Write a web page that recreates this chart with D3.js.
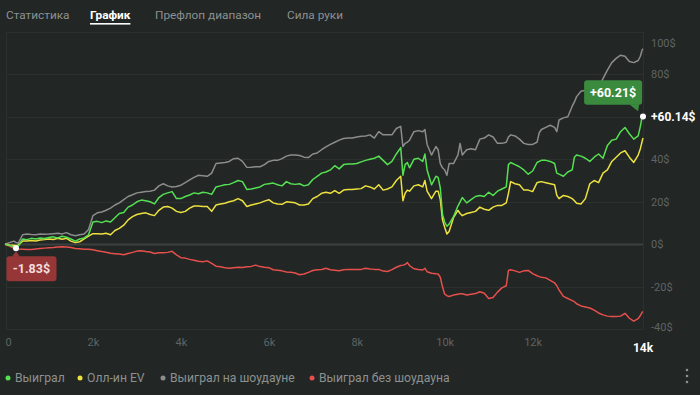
<!DOCTYPE html>
<html>
<head>
<meta charset="utf-8">
<script src="https://cdn.jsdelivr.net/npm/d3@7"></script>
<style>
  html, body { margin: 0; padding: 0; background: #222625; }
  svg { display: block; font-family: Roboto, "Noto Sans", sans-serif; }
</style>
</head>
<body>
<div id="chart"></div>
<script>
// вкладки
const tabs = ["Статистика", "График", "Префлоп диапазон", "Сила руки"]
const activeTab = "График"

// раздачи (ось X)
const hands = [
  0, 100, 200, 250, 300, 400, 500, 600, 700, 800, 900, 1000, 1100, 1200, 1300, 1400,
  1500, 1600, 1700, 1800, 1900, 2000, 2100, 2200, 2300, 2400, 2500, 2600, 2700, 2800,
  2900, 3000, 3100, 3200, 3300, 3400, 3500, 3600, 3700, 3800, 3900, 4000, 4100, 4200,
  4300, 4400, 4500, 4600, 4700, 4800, 4900, 5000, 5100, 5200, 5300, 5400, 5500, 5600,
  5700, 5800, 5900, 6000, 6100, 6200, 6300, 6400, 6500, 6600, 6700, 6800, 6900, 7000,
  7100, 7200, 7300, 7400, 7500, 7600, 7700, 7800, 7900, 8000, 8100, 8200, 8300, 8400,
  8500, 8600, 8700, 8800, 8900, 9000, 9050, 9100, 9150, 9200, 9300, 9400, 9500, 9550,
  9600, 9700, 9800, 9850, 9900, 9950, 10000, 10050, 10100, 10200, 10300, 10350, 10400,
  10500, 10600, 10700, 10800, 10900, 11000, 11100, 11200, 11300, 11400, 11450, 11500,
  11600, 11700, 11800, 11900, 12000, 12100, 12150, 12200, 12300, 12400, 12500, 12550,
  12600, 12700, 12800, 12900, 12950, 13000, 13100, 13200, 13300, 13400, 13500, 13600,
  13700, 13800, 13900, 14000, 14100, 14200, 14300, 14400, 14450, 14490, 14510
]

// Выиграл
const won = [
  0, -0.5, -1.2, -1.83, -1.0, 2.5, 2.2, 2.8, 2.5, 3.0, 2.7, 3.2, 3.5, 3.0, 3.8, 3.3,
  2.5, 1.5, 2.5, 3.0, 4.5, 10.5, 10.8, 10.2, 11.0, 10.5, 12.5, 14.5, 15.0, 17.5,
  18.5, 20.0, 20.8, 20.5, 20.0, 19.0, 22.0, 23.5, 24.2, 24.8, 21.5, 21.5, 22.5, 23.2,
  24.2, 23.8, 24.5, 24.2, 23.5, 27.0, 27.5, 28.0, 28.2, 29.0, 30.0, 29.5, 25.8, 26.0,
  26.5, 27.0, 28.2, 28.5, 28.8, 28.0, 27.5, 29.5, 28.5, 28.2, 28.5, 27.5, 28.0, 30.5,
  32.0, 33.5, 34.0, 35.0, 37.0, 35.5, 37.5, 37.8, 37.8, 38.0, 38.8, 39.5, 40.0, 40.5,
  41.5, 39.5, 37.5, 39.0, 42.5, 45.5, 32.5, 37.5, 38.5, 36.0, 40.0, 40.5, 39.0, 42.5,
  35.0, 28.0, 32.0, 31.5, 26.5, 14.0, 10.5, 8.5, 9.5, 13.0, 18.0, 20.0, 22.0,
  19.5, 21.0, 22.5, 23.0, 22.5, 24.5, 23.0, 25.0, 26.0, 27.0, 37.5, 38.5,
  37.5, 36.5, 35.0, 33.0, 34.5, 38.5, 39.0, 39.5, 39.5, 39.0, 38.0, 33.5,
  33.0, 32.0, 34.0, 35.0, 41.0, 42.0, 41.5, 40.5, 39.0, 41.0, 42.5, 40.5,
  46.5, 49.0, 49.5, 53.0, 55.0, 52.0, 49.5, 51.0, 55.5, 60.21, 60.14
]

// Олл-ин EV
const allinEV = [
  0, -0.3, -0.5, -0.6, -0.4, 1.5, 1.5, 1.8, 1.6, 2.0, 2.2, 2.5, 2.3, 2.8, 2.4, 2.8,
  1.5, 0.8, 1.2, 2.5, 3.8, 5.0, 5.0, 4.8, 5.2, 4.5, 6.5, 7.5, 9.0, 11.5,
  13.0, 14.0, 14.5, 14.8, 14.0, 13.5, 16.0, 17.5, 17.8, 17.0, 15.5, 15.0, 15.5, 17.0,
  18.0, 18.0, 17.8, 17.8, 15.5, 18.5, 19.0, 19.3, 20.0, 20.5, 21.5, 20.5, 17.8, 18.5,
  19.0, 19.5, 20.3, 21.0, 19.5, 19.0, 18.8, 20.0, 19.8, 19.5, 18.5, 18.5, 19.0, 21.5,
  22.5, 24.0, 24.5, 24.0, 25.3, 24.0, 25.5, 25.8, 25.8, 26.0, 26.2, 27.5, 27.0, 26.0,
  28.0, 25.5, 26.0, 27.0, 30.0, 32.0, 20.5, 24.0, 25.5, 25.0, 27.5, 28.0, 27.0, 30.0,
  25.0, 21.5, 25.0, 25.0, 21.0, 11.5, 8.0, 4.8, 6.0, 12.5, 16.0, 14.5, 13.5,
  14.5, 15.0, 15.5, 17.5, 16.5, 16.0, 17.5, 18.3, 18.3, 19.5, 24.0, 29.5,
  28.5, 28.0, 25.5, 25.5, 24.8, 29.0, 29.3, 29.5, 29.0, 28.5, 28.0, 23.0,
  21.5, 23.0, 22.5, 21.5, 20.5, 19.3, 19.0, 21.5, 28.5, 30.0, 29.0, 33.5,
  35.0, 39.0, 41.0, 43.0, 44.0, 41.0, 38.5, 42.0, 45.0, 48.5, 50.0
]

// Выиграл на шоудауне
const wonShowdown = [
  0, 0.8, 1.5, 0.9, 0.5, 4.5, 4.8, 4.6, 4.5, 4.8, 4.7, 4.8, 5.0, 5.2, 4.9, 5.5,
  4.5, 4.0, 4.5, 4.8, 7.0, 13.5, 14.8, 15.2, 16.0, 17.0, 18.5, 19.5, 21.0, 22.5,
  23.3, 24.2, 24.5, 24.8, 25.0, 25.5, 27.5, 28.5, 27.5, 27.0, 27.2, 27.8, 29.0, 30.3,
  31.5, 32.5, 32.3, 32.0, 33.5, 38.0, 38.3, 38.5, 39.0, 40.3, 40.5, 39.0, 36.2, 36.3,
  36.5, 36.5, 37.5, 39.0, 39.5, 39.5, 40.3, 41.5, 42.0, 42.0, 41.8, 41.0, 40.8, 42.5,
  43.0, 44.5, 45.8, 47.0, 48.0, 49.0, 49.8, 50.0, 50.0, 50.5, 50.8, 51.0, 51.5, 50.0,
  53.0, 51.5, 51.5, 51.5, 54.5, 55.5, 46.0, 47.5, 48.0, 49.0, 53.0, 53.5, 53.0, 54.0,
  47.0, 42.0, 46.0, 44.5, 38.0, 36.0, 35.0, 32.5, 38.0, 38.0, 42.0, 47.5, 42.0,
  44.5, 45.0, 44.5, 49.5, 50.0, 51.5, 50.5, 47.5, 47.5, 48.0, 50.5, 51.5,
  51.0, 49.5, 47.5, 47.0, 47.0, 48.0, 52.5, 54.0, 55.0, 56.0, 55.0, 53.0,
  58.5, 59.5, 60.0, 65.0, 67.0, 69.5, 72.0, 72.5, 73.5, 72.5, 74.0, 78.0,
  82.0, 85.5, 87.5, 89.0, 88.5, 86.0, 85.5, 86.5, 88.5, 91.5, 92.0
]

// Выиграл без шоудауна
const wonNoShowdown = [
  0, -0.8, -1.8, -2.1, -2.2, -2.3, -2.4, -2.4, -2.2, -2.0, -1.8, -1.6, -1.5, -1.3, -1.1, -1.3,
  -1.5, -2.0, -2.1, -2.3, -2.3, -2.6, -3.0, -3.4, -3.7, -4.2, -4.4, -4.6, -4.9, -4.3,
  -3.8, -3.2, -3.0, -3.4, -3.6, -4.3, -4.0, -4.0, -3.8, -3.3, -5.0, -6.3, -6.5, -7.1,
  -7.5, -8.0, -8.2, -7.8, -9.0, -10.3, -10.6, -11.0, -11.3, -11.0, -10.8, -10.9, -10.6, -10.4,
  -9.8, -10.5, -10.8, -11.0, -12.0, -12.2, -12.5, -13.0, -13.2, -13.5, -14.3, -14.0, -13.2, -12.3,
  -12.0, -11.9, -11.3, -12.0, -12.2, -12.4, -12.0, -11.8, -11.8, -11.8, -11.8, -11.3, -11.6, -11.8,
  -11.8, -12.6, -12.8, -11.9, -10.8, -10.0, -9.8, -9.5, -8.6, -10.0, -11.5, -11.9, -12.1, -11.3,
  -12.9, -13.6, -13.9, -14.0, -15.5, -20.0, -23.5, -24.2, -24.6, -23.9, -23.5, -23.3, -23.3,
  -23.9, -23.5, -23.2, -22.3, -23.0, -25.5, -25.0, -22.5, -20.5, -19.5, -12.3, -12.0,
  -12.5, -13.2, -12.5, -12.3, -13.8, -14.8, -15.2, -15.5, -15.8, -17.0, -18.2, -19.5,
  -21.5, -24.5, -25.5, -26.5, -27.0, -28.0, -29.0, -29.5, -30.0, -31.0, -32.3, -33.2,
  -33.8, -34.0, -34.0, -33.8, -32.5, -34.8, -36.2, -35.0, -33.5, -32.0, -31.6
]

// деления осей
const yTicks = [-40, -20, 0, 20, 40, 60, 80, 100]
const xTicks = [0, 2000, 4000, 6000, 8000, 10000, 12000]
const xEndLabel = "14k"

// серии и легенда
const seriesNames = ["Выиграл", "Олл-ин EV", "Выиграл на шоудауне", "Выиграл без шоудауна"]
const seriesColors = ["#55e052", "#ece13f", "#8c8c8c", "#e5504c"]

const config = {
  width: 700,
  height: 395,
  plot: { left: 5, right: 643, top: 31.8, bottom: 329.3 },
}

const svg = d3.select("#chart")
  .append("svg")
  .attr("width", config.width)
  .attr("height", config.height)

svg.append("rect")
  .attr("width", config.width)
  .attr("height", config.height)
  .attr("fill", "#222625")

// вкладки сверху
const tabX = [6, 90, 155, 287]
const tabG = svg.append("g").attr("font-size", "11.8px")
tabs.forEach((t, i) => {
  tabG.append("text")
    .text(t)
    .attr("x", tabX[i])
    .attr("y", 18.5)
    .attr("fill", t === activeTab ? "#ffffff" : "#8c9190")
    .attr("font-weight", t === activeTab ? "bold" : "normal")
})
const activeIdx = tabs.indexOf(activeTab)
const activeW = tabG.selectAll("text").nodes()[activeIdx].getComputedTextLength()
tabG.append("rect")
  .attr("x", tabX[activeIdx])
  .attr("y", 23)
  .attr("width", activeW)
  .attr("height", 1.6)
  .attr("fill", "#ffffff")

// шкалы
const x = d3.scaleLinear()
  .domain([0, hands[hands.length - 1]])
  .range([config.plot.left, config.plot.right])

const y = d3.scaleLinear()
  .domain([-40, 100])
  .range([config.plot.bottom, config.plot.top])

// сетка
svg.append("g")
  .selectAll("line")
  .data(yTicks)
  .enter()
  .append("line")
  .attr("x1", x(0) + 1)
  .attr("x2", x.range()[1])
  .attr("y1", (d) => Math.round(y(d)) + 0.5)
  .attr("y2", (d) => Math.round(y(d)) + 0.5)
  .attr("stroke", (d) => (d === 0 ? "#3c4140" : "#2c3130"))
  .attr("stroke-width", (d) => (d === 0 ? 2 : 1))

// рамка слева и справа
svg.append("g")
  .selectAll("line")
  .data([x(0) + 1, x.range()[1]])
  .enter()
  .append("line")
  .attr("x1", (d) => Math.round(d) + 0.5)
  .attr("x2", (d) => Math.round(d) + 0.5)
  .attr("y1", y(100))
  .attr("y2", y(-40))
  .attr("stroke", "#2c3130")

const lastI = won.length - 1
const lastY = y(won[lastI])

// ось Y справа (подпись под последним значением скрыта)
const yAxis = d3.axisRight(y)
  .tickValues(yTicks)
  .tickSize(0)
  .tickPadding(8)
  .tickFormat((d) => `${d}$`)
svg.append("g")
  .attr("class", "y-axis")
  .attr("transform", `translate(${config.plot.right},0)`)
  .call(yAxis)
svg.select(".y-axis .domain").remove()
svg.selectAll(".y-axis .tick text")
  .attr("fill", "#5f6463")
  .attr("font-size", "11px")
  .attr("font-family", "Roboto, sans-serif")
  .attr("dy", (d) => (d === 100 ? "1.35em" : d === -40 ? "0.1em" : "0.32em"))
  .attr("opacity", (d) => (Math.abs(y(d) - lastY) < 12 ? 0 : 1))

// ось X
const xAxis = d3.axisBottom(x)
  .tickValues(xTicks)
  .tickSize(0)
  .tickPadding(0)
  .tickFormat((d) => (d === 0 ? "0" : `${d / 1000}k`))
svg.append("g")
  .attr("class", "x-axis")
  .attr("transform", `translate(0,343)`)
  .call(xAxis)
svg.select(".x-axis .domain").remove()
svg.selectAll(".x-axis .tick text")
  .attr("fill", "#5f6463")
  .attr("font-size", "11px")
  .attr("font-family", "Roboto, sans-serif")
  .attr("dy", "0.3em")
  .attr("text-anchor", (d) => (d === 0 ? "start" : "middle"))

svg.append("text")
  .text(xEndLabel)
  .attr("x", x(hands[hands.length - 1]))
  .attr("y", 351.5)
  .attr("text-anchor", "middle")
  .attr("fill", "#ffffff")
  .attr("font-weight", "bold")
  .attr("font-size", "12px")

// линии
const seriesData = [won, allinEV, wonShowdown, wonNoShowdown]
const line = d3.line()
  .x((d, i) => x(hands[i]))
  .y((d) => y(d))

const drawOrder = [2, 3, 1, 0]
drawOrder.forEach((s) => {
  svg.append("path")
    .datum(seriesData[s])
    .attr("d", line)
    .attr("fill", "none")
    .attr("stroke", seriesColors[s])
    .attr("stroke-width", 1.5)
    .attr("stroke-linejoin", "round")
})

// максимум и минимум серии "Выиграл"
const maxI = d3.maxIndex(won)
const minI = d3.minIndex(won)

// подсказка максимума
const mx = x(hands[maxI]) + 2
const my = y(won[maxI])
const maxTip = svg.append("g")
maxTip.append("rect")
  .attr("x", mx - 60)
  .attr("y", my - 36)
  .attr("width", 58)
  .attr("height", 24.5)
  .attr("rx", 3)
  .attr("fill", "#3b8b3f")
maxTip.append("polygon")
  .attr("points", `${mx - 15},${my - 12} ${mx - 5},${my - 12} ${mx - 6},${my - 5}`)
  .attr("fill", "#3b8b3f")
maxTip.append("text")
  .text(`+${won[maxI].toFixed(2)}$`)
  .attr("x", mx - 31)
  .attr("y", my - 23.5)
  .attr("dy", "0.35em")
  .attr("text-anchor", "middle")
  .attr("fill", "#ffffff")
  .attr("font-weight", "bold")
  .attr("font-size", "12.5px")

// подсказка минимума
const nx = x(hands[minI])
const ny = y(won[minI])
const minTip = svg.append("g")
minTip.append("rect")
  .attr("x", nx - 9.5)
  .attr("y", ny + 8)
  .attr("width", 50)
  .attr("height", 25)
  .attr("rx", 3)
  .attr("fill", "#973636")
minTip.append("polygon")
  .attr("points", `${nx - 4},${ny + 8.5} ${nx + 4},${ny + 8.5} ${nx},${ny + 3}`)
  .attr("fill", "#973636")
minTip.append("text")
  .text(`${won[minI].toFixed(2)}$`)
  .attr("x", nx + 15.5)
  .attr("y", ny + 20.5)
  .attr("dy", "0.35em")
  .attr("text-anchor", "middle")
  .attr("fill", "#f3dede")
  .attr("font-weight", "bold")
  .attr("font-size", "12.5px")

// точки
svg.selectAll(".mark")
  .data([minI, lastI])
  .enter()
  .append("circle")
  .attr("cx", (i) => x(hands[i]))
  .attr("cy", (i) => y(won[i]))
  .attr("r", 3)
  .attr("fill", "#ffffff")

// последнее значение
svg.append("text")
  .text(`+${won[lastI].toFixed(2)}$`)
  .attr("x", config.plot.right + 8)
  .attr("y", lastY)
  .attr("dy", "0.35em")
  .attr("fill", "#ffffff")
  .attr("font-weight", "bold")
  .attr("font-size", "12px")

// легенда
const legendX = [8, 80, 163, 312]
const legend = svg.append("g").attr("font-size", "12.2px")
seriesNames.forEach((n, i) => {
  legend.append("circle")
    .attr("cx", legendX[i])
    .attr("cy", 378)
    .attr("r", 2.5)
    .attr("fill", seriesColors[i])
  legend.append("text")
    .text(n)
    .attr("x", legendX[i] + 7)
    .attr("y", 378)
    .attr("dy", "0.35em")
    .attr("fill", "#8c9190")
})

// меню
svg.selectAll(".menu-dot")
  .data([370, 376, 382])
  .enter()
  .append("circle")
  .attr("cx", 687)
  .attr("cy", (d) => d)
  .attr("r", 1.3)
  .attr("fill", "#8c9190")
</script>
</body>
</html>
